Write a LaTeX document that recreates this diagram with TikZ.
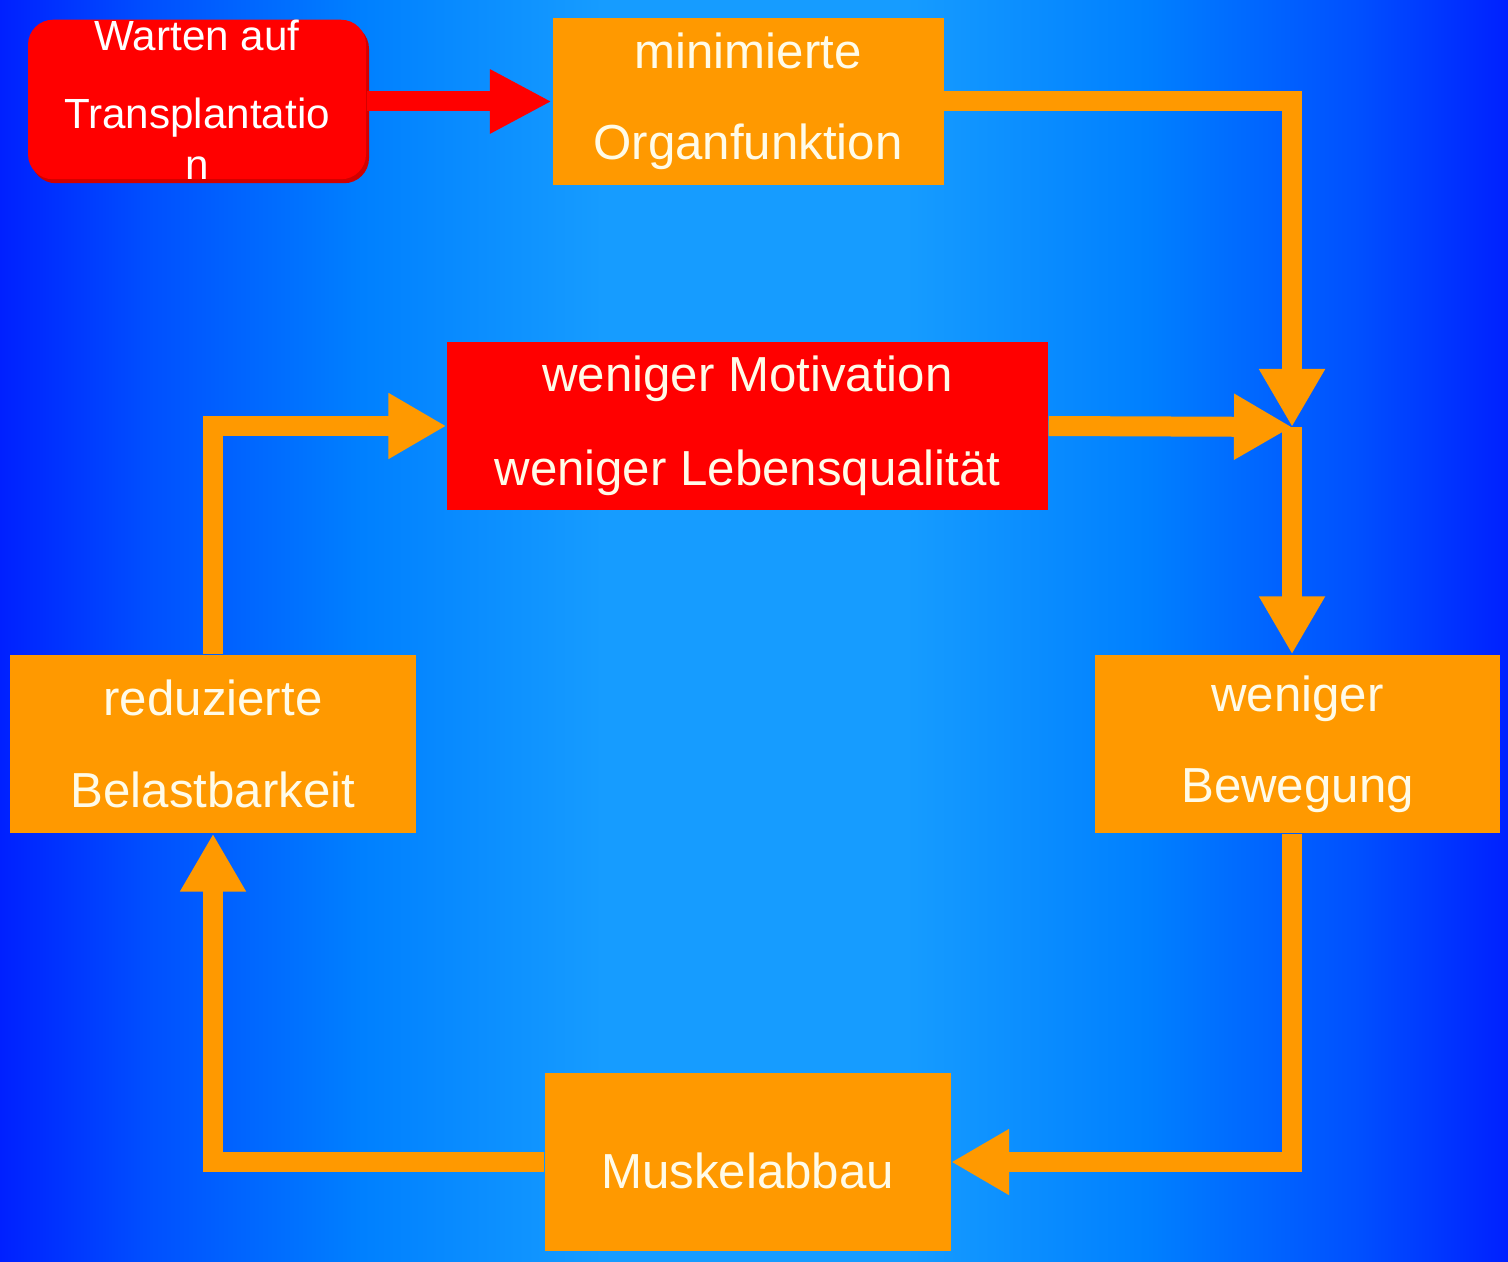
\documentclass[tikz,border=0pt]{standalone}
\usepackage{fontspec}
\setmainfont{Liberation Sans}
\usetikzlibrary{arrows.meta,shadows}

\definecolor{bgedge}{RGB}{0,32,255}
\definecolor{bgouter}{RGB}{0,80,255}
\definecolor{bgmid}{RGB}{0,128,255}
\definecolor{bgcentre}{RGB}{22,156,255}
\definecolor{boxorange}{RGB}{255,153,0}
\definecolor{boxred}{RGB}{255,0,0}
\definecolor{textcream}{RGB}{255,251,232}

\pgfdeclarehorizontalshading{bgshade}{100bp}{color(0bp)=(bgedge); color(25bp)=(bgedge); color(30bp)=(bgouter); color(37bp)=(bgmid); color(45bp)=(bgcentre); color(55bp)=(bgcentre); color(63bp)=(bgmid); color(70bp)=(bgouter); color(75bp)=(bgedge); color(100bp)=(bgedge)}

\tikzset{
	orangebox/.style={fill=boxorange, text=textcream, align=center, inner sep=0pt, font=\fontsize{14}{26}\selectfont},
	redbox/.style={fill=boxred, text=textcream, align=center, inner sep=0pt, font=\fontsize{14}{26.7}\selectfont},
	flow/.style={draw=boxorange, line width=2mm, -{Triangle[length=5.8mm,width=6.2mm]}},
	feed/.style={draw=boxred, line width=2mm, -{Triangle[length=6.2mm,width=6mm]}}
}

\begin{document}
\begin{tikzpicture}
	\shade[shading=bgshade] (0,0) rectangle (15.08,12.61);
	\useasboundingbox (0,0) rectangle (15.08,12.61);

	\node[fill=boxred, text=white, rounded corners=2.5mm, align=center, inner sep=0pt, minimum width=3.38cm, minimum height=1.55cm, font=\fontsize{12}{14.5}\selectfont, drop shadow={shadow xshift=0.3mm, shadow yshift=-0.4mm, fill=boxred!82!black, opacity=1}] (wait) at (1.97,11.615) {Warten auf\\[7.7pt]Transplantatio\\n};
	\node[orangebox, minimum width=3.91cm, minimum height=1.67cm] (organ) at (7.48,11.595) {minimierte\\Organfunktion};
	\node[redbox, minimum width=6.01cm, minimum height=1.68cm] (motiv) at (7.475,8.35) {weniger Motivation\\weniger Lebensqualität};
	\node[orangebox, minimum width=4.05cm, minimum height=1.78cm] (beweg) at (12.975,5.17) {weniger\\Bewegung};
	\node[orangebox, minimum width=4.06cm, minimum height=1.78cm] (belast) at (2.13,5.17) {reduzierte\\Belastbarkeit};
	\node[orangebox, minimum width=4.06cm, minimum height=1.78cm, text height=14.8pt, text depth=0pt] (muskel) at (7.475,0.99) {Muskelabbau};
	\coordinate (junction) at (12.92,8.34);

	\draw[feed] (wait.east |- organ.west) -- (organ.west);
	\draw[flow] (organ.east) -| (junction);
	\draw[flow] (motiv.east) -- (junction);
	\draw[flow] (junction) -- (junction |- beweg.north);
	\draw[flow] (junction |- beweg.south) |- (muskel.east);
	\draw[flow] (muskel.west) -| (belast.south);
	\draw[flow] (belast.north) |- (motiv.west);
\end{tikzpicture}
\end{document}
